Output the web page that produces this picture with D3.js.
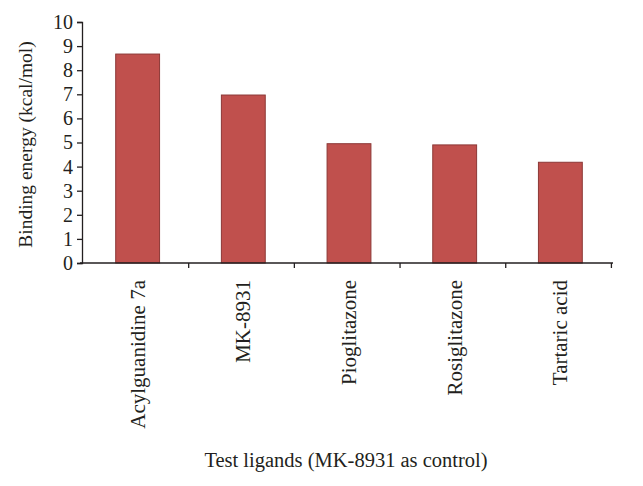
<!DOCTYPE html>
<html><head><meta charset="utf-8">
<script src="https://cdn.jsdelivr.net/npm/d3@7"></script>
<style>body{margin:0;background:#fff}svg{display:block}text{font-family:"Liberation Serif","Times New Roman",serif;fill:#231f20}</style>
</head><body>
<svg id="c" width="643" height="486"></svg>
<script>
const categories = ["Acylguanidine 7a","MK-8931","Pioglitazone","Rosiglitazone","Tartaric acid"];
const values = [8.67, 6.97, 4.95, 4.9, 4.18];
const yTicks = [0,1,2,3,4,5,6,7,8,9,10];
const yTitle = "Binding energy (kcal/mol)";
const xTitle = "Test ligands (MK-8931 as control)";

const svg = d3.select("#c");
const m = {left:83, right:30, top:22, bottom:223};
const W = 643, H = 486;
const x = d3.scaleBand().domain(categories).range([m.left, W - m.right]).paddingInner(0.585).paddingOuter(0.3);
const y = d3.scaleLinear().domain([0,10]).range([H - m.bottom, m.top]);

// bars
svg.append("g").selectAll("rect").data(values).join("rect")
  .attr("x",(d,i)=>x(categories[i])+1)
  .attr("y",d=>y(d))
  .attr("width",x.bandwidth())
  .attr("height",d=>y(0)-y(d))
  .attr("fill","#c0504d").attr("stroke","#8c3836").attr("stroke-width",1);

// y axis
const ya = svg.append("g").attr("transform",`translate(${m.left-1},0)`)
  .call(d3.axisLeft(y).tickValues(yTicks).tickFormat(d3.format("d")).tickSize(5).tickPadding(4));
ya.select(".domain").attr("stroke","#231f20").attr("stroke-width",1.3);
ya.selectAll(".tick line").attr("stroke","#231f20").attr("stroke-width",1.3);
ya.selectAll("text").attr("font-size",20).attr("fill","#231f20").style("font-family","'Liberation Serif',serif");

// x axis with ticks at band boundaries
const step = x.step();
const bounds = categories.map((c,i)=> x.range()[0] + step*(i+1));
const xa = svg.append("g").attr("transform",`translate(0,${y(0)})`);
xa.append("line").attr("x1",m.left-3).attr("x2",W-m.right).attr("y1",0).attr("y2",0).attr("stroke","#231f20").attr("stroke-width",1.3);
xa.selectAll("line.t").data(bounds).join("line").attr("class","t")
  .attr("x1",d=>d).attr("x2",d=>d).attr("y1",0).attr("y2",5).attr("stroke","#231f20").attr("stroke-width",1.3);
xa.selectAll("text").data(categories).join("text")
  .attr("transform",d=>`translate(${x(d)+x.bandwidth()/2+8},17) rotate(-90)`)
  .attr("text-anchor","end").attr("font-size",21).text(d=>d);

// titles
svg.append("text").attr("transform",`translate(32,${(y(0)+y(10))/2 + 2}) rotate(-90)`)
  .attr("text-anchor","middle").attr("font-size",19.5).text(yTitle);
svg.append("text").attr("x",346).attr("y",467).attr("text-anchor","middle").attr("font-size",20.5).text(xTitle);
</script>
</body></html>
